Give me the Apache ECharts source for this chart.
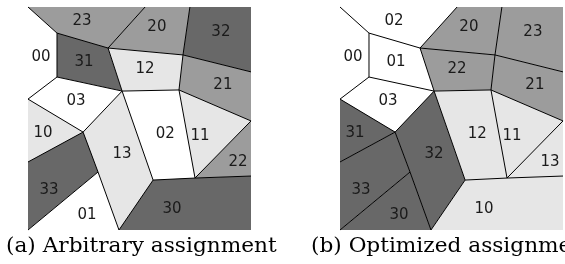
<!DOCTYPE html>
<html>
<head>
<meta charset="utf-8">
<script src="https://cdn.jsdelivr.net/npm/echarts@6/dist/echarts.min.js"></script>
<style>
  html, body { margin: 0; padding: 0; background: #fff; }
  #chart { width: 565px; height: 264px; }
</style>
</head>
<body>
<div id="chart"></div>
<script>
  // Voronoi vertices, unit square 0..100
  const vertices = {
    A: [0, 100], B: [52.5, 100], C: [72.6, 100], D: [100, 100],
    E: [13.0, 88.3], F: [35.9, 81.6], G: [69.5, 78.5], H: [100, 70.9],
    I: [13.0, 68.6], J: [0, 58.7], K: [42.2, 62.3], L: [67.7, 62.8],
    M: [100, 48.9], N: [24.7, 43.9], O: [0, 30.5], P: [31.4, 26.0],
    Q: [56.1, 22.4], R: [74.9, 23.3], S: [100, 24.2],
    T: [0, 0], U: [40.8, 0], V: [100, 0]
  };

  // cells (same tessellation in both panels)
  const cells = [
    ["A", "E", "I", "J"],
    ["A", "B", "F", "E"],
    ["B", "C", "G", "F"],
    ["C", "D", "H", "G"],
    ["E", "F", "K", "I"],
    ["F", "G", "L", "K"],
    ["G", "H", "M", "L"],
    ["J", "I", "K", "N"],
    ["J", "N", "O"],
    ["N", "K", "Q", "U", "P"],
    ["K", "L", "R", "Q"],
    ["L", "M", "R"],
    ["M", "S", "R"],
    ["O", "N", "P", "T"],
    ["T", "P", "U"],
    ["U", "Q", "R", "S", "V"]
  ];

  // label position of each cell
  const sites = [
    [5.8, 77.6], [24.2, 93.7], [57.8, 91.0], [86.5, 88.8],
    [25.1, 75.3], [52.5, 72.2], [87.4, 65.0], [21.5, 57.8],
    [6.7, 43.5], [42.2, 34.1], [61.6, 43.2], [77.1, 42.2],
    [94.2, 30.5], [9.4, 17.9], [26.5, 6.7], [64.6, 9.4]
  ];

  const labelsA = ["00", "23", "20", "32", "31", "12", "21", "03", "10", "13", "02", "11", "22", "33", "01", "30"];
  const labelsB = ["00", "02", "20", "23", "01", "22", "21", "03", "31", "32", "12", "11", "13", "33", "30", "10"];

  const captions = ["(a) Arbitrary assignment", "(b) Optimized assignment"];

  // fill by first digit
  const shades = {"0": "#ffffff", "1": "#e6e6e6", "2": "#9c9c9c", "3": "#686868"};

  // interior edges only (the square's outline is not stroked)
  function onBorder(p, q) {
    return (p[0] === q[0] && (p[0] === 0 || p[0] === 100)) ||
        (p[1] === q[1] && (p[1] === 0 || p[1] === 100));
  }

  const edges = [];
  const seen = {};
  cells.forEach(c => {
    c.forEach((k, i) => {
      let k2 = c[(i + 1) % c.length];
      let key = [k, k2].sort().join("");
      if (seen[key]) return;
      seen[key] = true;
      let p = vertices[k], q = vertices[k2];
      if (!onBorder(p, q)) edges.push([p[0], p[1], q[0], q[1]]);
    });
  });

  function cellSeries(idx, labels) {
    return {
      type: "custom",
      xAxisIndex: idx,
      yAxisIndex: idx,
      silent: true,
      data: cells.map((c, i) => [sites[i][0], sites[i][1], i]),
      renderItem(params, api) {
        let i = api.value(2);
        let pts = cells[i].map(k => api.coord(vertices[k]));
        let s = api.coord([sites[i][0], sites[i][1]]);
        return {
          type: "group",
          children: [
            {
              type: "polygon",
              shape: {points: pts},
              style: {fill: shades[labels[i][0]], stroke: null}
            },
            {
              type: "text",
              x: s[0],
              y: s[1],
              z2: 10,
              style: {
                text: labels[i],
                fill: "#1a1a1a",
                font: "15px 'DejaVu Sans'",
                align: "center",
                verticalAlign: "middle"
              }
            }
          ]
        };
      }
    };
  }

  function edgeSeries(idx) {
    return {
      type: "custom",
      xAxisIndex: idx,
      yAxisIndex: idx,
      silent: true,
      z: 3,
      data: edges,
      renderItem(params, api) {
        let p = api.coord([api.value(0), api.value(1)]);
        let q = api.coord([api.value(2), api.value(3)]);
        return {
          type: "line",
          shape: {x1: p[0], y1: p[1], x2: q[0], y2: q[1]},
          style: {stroke: "#000", lineWidth: 1}
        };
      }
    };
  }

  const axis = (i) => ({
    type: "value", gridIndex: i, min: 0, max: 100, show: false
  });

  // caption text, stretched a bit to the width of the LaTeX serif
  const caption = (x, text) => ({
    type: "text", x: x, y: 237, scaleX: 1.11,
    style: {text: text, font: "19.5px 'DejaVu Serif'", fill: "#000"}
  });

  const chart = echarts.init(document.getElementById("chart"));
  chart.setOption({
    animation: false,
    grid: [
      {left: 28, top: 7, width: 223, height: 223},
      {left: 340, top: 7, width: 223, height: 223}
    ],
    xAxis: [axis(0), axis(1)],
    yAxis: [axis(0), axis(1)],
    series: [
      cellSeries(0, labelsA),
      edgeSeries(0),
      cellSeries(1, labelsB),
      edgeSeries(1)
    ],
    graphic: [
      caption(6, captions[0]),
      caption(311, captions[1])
    ]
  });
</script>
</body>
</html>
